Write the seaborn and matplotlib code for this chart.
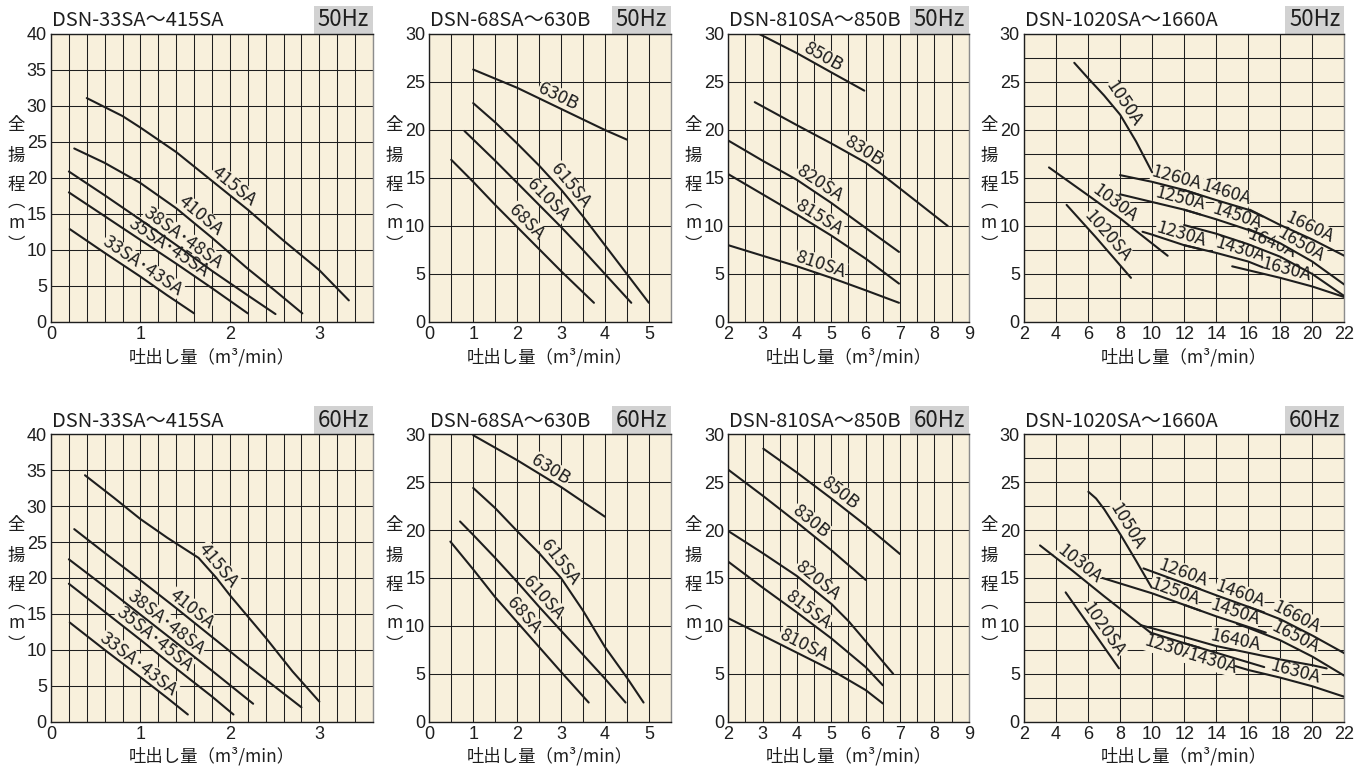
import numpy as np
import pandas as pd
import matplotlib
matplotlib.use("Agg")
import matplotlib.pyplot as plt
import seaborn as sns
from matplotlib.patches import Rectangle
from matplotlib.ticker import MultipleLocator

# pump curves: model -> (吐出し量 m3/min, 全揚程 m)
S_50 = {
    '415SA': ([0.40, 0.80, 1.00, 1.40, 1.80, 2.20, 2.60, 3.00, 3.33],
              [31.1, 28.6, 27.0, 23.6, 19.6, 15.6, 11.3, 7.2, 3.0]),
    '410SA': ([0.26, 0.60, 1.00, 1.40, 1.80, 2.20, 2.50, 2.81],
              [24.1, 22.1, 19.3, 15.8, 11.7, 7.4, 4.4, 1.2]),
    '38SA･48SA': ([0.20, 0.60, 1.00, 1.40, 1.80, 2.20, 2.51],
                  [20.9, 17.6, 14.2, 10.7, 7.1, 3.7, 1.1]),
    '35SA･45SA': ([0.20, 0.60, 1.00, 1.40, 1.80, 2.20],
                  [18.0, 14.7, 11.4, 8.1, 4.7, 1.2]),
    '33SA･43SA': ([0.21, 0.60, 1.00, 1.30, 1.60],
                  [12.9, 9.6, 6.3, 3.7, 1.2]),
}
S_60 = {
    '415SA': ([0.38, 0.70, 1.00, 1.30, 1.65, 1.85, 2.00, 2.40, 2.70, 3.00],
              [34.3, 31.2, 28.2, 25.6, 22.8, 20.0, 17.6, 11.7, 7.0, 2.8]),
    '410SA': ([0.26, 0.60, 1.00, 1.40, 1.80, 2.20, 2.50, 2.80],
              [26.8, 23.5, 19.7, 15.8, 11.8, 7.8, 4.9, 2.0]),
    '38SA･48SA': ([0.20, 0.60, 1.00, 1.40, 1.80, 2.26],
                  [22.6, 18.8, 14.9, 11.0, 7.1, 2.5]),
    '35SA･45SA': ([0.20, 0.60, 1.00, 1.40, 1.80, 2.04],
                  [19.2, 15.3, 11.4, 7.4, 3.5, 1.0]),
    '33SA･43SA': ([0.21, 0.60, 1.00, 1.30, 1.53],
                  [13.8, 10.0, 6.2, 3.3, 1.0]),
}
M_50 = {
    '630B': ([1.0, 2.0, 3.0, 4.0, 4.5], [26.3, 24.4, 22.2, 20.0, 19.0]),
    '615SA': ([1.0, 1.5, 2.0, 2.5, 3.0, 3.5, 4.0, 4.5, 5.0],
              [22.8, 20.8, 18.6, 16.3, 13.8, 11.0, 8.0, 5.0, 2.0]),
    '610SA': ([0.8, 1.5, 2.0, 2.5, 3.0, 3.5, 4.0, 4.6],
              [19.9, 16.8, 14.5, 12.2, 9.9, 7.5, 5.0, 2.0]),
    '68SA': ([0.5, 1.0, 1.5, 2.0, 2.5, 3.0, 3.75],
             [16.9, 14.6, 12.2, 9.9, 7.6, 5.3, 2.0]),
}
M_60 = {
    '630B': ([1.0, 2.0, 3.0, 4.0], [29.9, 27.3, 24.5, 21.4]),
    '615SA': ([1.0, 1.5, 2.0, 2.5, 3.0, 3.5, 4.0, 4.5, 4.88],
              [24.4, 22.3, 19.9, 17.6, 15.0, 11.6, 7.8, 4.6, 2.0]),
    '610SA': ([0.7, 1.0, 1.5, 2.0, 2.5, 3.0, 3.5, 4.0, 4.47],
              [20.9, 19.5, 17.1, 14.6, 12.0, 9.5, 7.0, 4.5, 2.0]),
    '68SA': ([0.48, 1.0, 1.5, 2.0, 2.5, 3.0, 3.63],
             [18.8, 15.9, 13.0, 10.4, 7.8, 5.2, 2.0]),
}
L_50 = {
    '850B': ([2.9, 4.0, 5.0, 5.96], [30.0, 28.0, 26.0, 24.1]),
    '830B': ([2.77, 4.0, 5.0, 6.0, 6.5, 7.5, 8.39],
             [22.9, 20.5, 18.6, 16.6, 15.3, 12.5, 10.0]),
    '820SA': ([2.0, 3.0, 4.0, 5.0, 6.0, 6.97], [18.9, 16.8, 14.8, 12.4, 9.8, 7.3]),
    '815SA': ([2.0, 3.0, 4.0, 5.0, 6.0, 6.97], [15.4, 13.3, 11.2, 9.0, 6.6, 4.0]),
    '810SA': ([2.0, 3.0, 4.0, 5.0, 6.0, 6.97], [8.0, 6.9, 5.8, 4.6, 3.3, 2.0]),
}
L_60 = {
    '850B': ([3.02, 4.0, 5.0, 6.0, 7.0], [28.5, 26.0, 23.3, 20.5, 17.5]),
    '830B': ([2.0, 3.0, 4.0, 5.0, 6.0], [26.3, 23.6, 20.8, 17.9, 14.8]),
    '820SA': ([2.0, 3.0, 4.0, 5.0, 5.5, 6.0, 6.8], [19.9, 17.6, 15.2, 12.3, 10.5, 8.4, 5.0]),
    '815SA': ([2.0, 3.0, 4.0, 5.0, 6.0, 6.5], [16.7, 14.0, 11.4, 8.7, 5.7, 3.8]),
    '810SA': ([2.0, 3.0, 4.0, 5.0, 6.0, 6.5], [10.8, 9.0, 7.2, 5.4, 3.3, 1.9]),
}
X_50 = {
    '1050A': ([5.14, 6, 7, 8, 9, 10], [27.0, 25.4, 23.6, 21.6, 18.8, 15.6]),
    '1260A': ([8, 10, 12, 13], [15.3, 14.6, 13.75, 13.2]),
    '1460A': ([12, 14, 16, 16.9], [13.75, 12.7, 11.7, 11.0]),
    '1660A': ([16.1, 18, 20, 22], [11.7, 10.1, 8.6, 6.9]),
    '1250A': ([8, 10, 12, 13], [13.3, 12.5, 11.7, 11.2]),
    '1450A': ([12, 14, 16, 16.9], [11.7, 10.7, 9.6, 9.1]),
    '1650A': ([16, 18, 20, 22], [9.7, 8.2, 6.3, 3.9]),
    '1230A': ([9.4, 10, 12, 13], [9.4, 9.1, 8.0, 7.6]),
    '1430A': ([12, 14, 16, 16.9], [8.0, 7.2, 6.3, 5.7]),
    '1640A': ([12, 14, 16, 18, 20, 22], [10.1, 9.2, 8.1, 6.8, 5.0, 2.7]),
    '1630A': ([15, 16, 18, 20, 22], [5.8, 5.4, 4.6, 3.7, 2.6]),
    '1030A': ([3.56, 6, 8, 10.97], [16.1, 13.2, 10.8, 6.9]),
    '1020SA': ([4.66, 6.5, 8.68], [12.2, 8.8, 4.6]),
}
X_60 = {
    '1050A': ([6.02, 6.5, 7, 8, 9, 9.97], [24.0, 23.3, 22.2, 19.6, 16.8, 14.0]),
    '1260A': ([9.46, 12, 13], [16.0, 14.45, 13.85]),
    '1460A': ([12, 14, 16, 17], [14.45, 13.2, 12.0, 11.4]),
    '1660A': ([16, 18, 20, 22], [12.0, 10.7, 9.0, 7.15]),
    '1250A': ([6.9, 10, 12, 13], [15.0, 13.4, 12.2, 11.6]),
    '1450A': ([12, 14, 16, 17.1], [12.2, 11.0, 9.9, 9.3]),
    '1650A': ([15.3, 16, 18, 20, 22], [10.2, 9.8, 8.5, 6.8, 4.8]),
    '1030A': ([3.0, 5, 7, 9.9], [18.4, 15.8, 13.1, 9.3]),
    '1230A': ([9.9, 12, 13], [9.3, 8.2, 7.7]),
    '1430A': ([12, 14, 16, 17], [8.2, 7.2, 6.2, 5.7]),
    '1630A': ([15.2, 16, 18, 20, 22], [5.8, 5.4, 4.6, 3.7, 2.6]),
    '1640A': ([9.3, 12, 14, 16, 18, 20, 20.9], [10.07, 8.85, 7.9, 7.2, 6.5, 5.9, 5.56]),
    '1020SA': ([4.6, 7.93], [13.5, 5.57]),
}

# where each curve name is written: flow at the text centre, +1 above / -1 below the line
S_50_LBL = {'415SA': (2.04, 1), '410SA': (1.67, 1), '38SA･48SA': (1.48, 1),
            '35SA･45SA': (1.32, 1), '33SA･43SA': (1.02, 1)}
S_60_LBL = {'415SA': (1.87, 1), '410SA': (1.58, 1), '38SA･48SA': (1.29, 1),
            '35SA･45SA': (1.16, 1), '33SA･43SA': (0.98, 1)}
M_50_LBL = {'630B': (2.93, 1), '615SA': (3.21, 1), '610SA': (2.70, 1), '68SA': (2.20, 1)}
M_60_LBL = {'630B': (2.77, 1), '615SA': (2.97, 1), '610SA': (2.60, 1), '68SA': (2.15, 1)}
L_50_LBL = {'850B': (4.77, 1), '830B': (5.95, 1), '820SA': (4.65, 1),
            '815SA': (4.65, 1), '810SA': (4.69, 1)}
L_60_LBL = {'850B': (5.25, 1), '830B': (4.40, 1), '820SA': (4.60, 1),
            '815SA': (4.33, 1), '810SA': (4.18, 1)}
X_50_LBL = {'1050A': (8.2, 1), '1260A': (11.53, 1), '1460A': (14.6, 1),
            '1250A': (11.74, 1), '1450A': (15.3, 1), '1030A': (7.68, 1),
            '1020SA': (7.22, 1), '1230A': (11.8, 1), '1430A': (15.5, 1),
            '1640A': (17.5, 1), '1660A': (19.8, 1), '1650A': (19.3, 1), '1630A': (18.4, 1)}
X_60_LBL = {'1050A': (8.41, 1), '1030A': (5.43, 1), '1020SA': (6.95, 1),
            '1260A': (11.95, 1), '1250A': (11.43, 1), '1460A': (15.5, 1),
            '1450A': (15.2, 1), '1660A': (19.0, 1), '1650A': (18.96, 1),
            '1640A': (15.2, 1), '1230A': (11.05, -1), '1430A': (13.76, -1), '1630A': (18.96, 1)}

TITLES = ['DSN-33SA～415SA', 'DSN-68SA～630B', 'DSN-810SA～850B', 'DSN-1020SA～1660A']
FREQS = ['50Hz', '60Hz']
X_LIMS = [(0, 3.6), (0, 5.5), (2, 9), (2, 22)]
Y_TOPS = [40, 30, 30, 30]
X_LABEL = '吐出し量（m³/min）'
Y_LABEL_CHARS = ['全', '揚', '程', '︵', 'm', '︶']

# ---- styling / layout ----
BG = '#f8f0dc'
INK = '#1e1e1e'
BOX = '#d2d2d2'
CJK = ['Noto Sans CJK JP', 'DejaVu Sans']
COL_PX = [(51, 322), (429.3, 241.5), (728.3, 240.4), (1024, 320.3)]   # left, width
ROW_PX = [(34, 288), (434.3, 287.4)]                                   # top, height
X_MAJOR = [1, 1, 1, 2]
X_GRID = [0.2, 0.5, 0.5, 2]
Y_GRID = [5, 5, 5, 2.5]
Y_CHAR_OFF = [91, 122, 151, 168, 189, 211]   # px below the plot top
LABEL_GAP = 9.5                              # px from line to text centre
W_PX, H_PX = 1370, 772

sns.set_style('white')
plt.rcParams['font.family'] = CJK


def to_frame(curves):
    rows = []
    for name, (xs, ys) in curves.items():
        for x, y in zip(xs, ys):
            rows.append({'model': name, 'flow': x, 'head': y})
    return pd.DataFrame(rows)


def place_label(ax, xs, ys, x0, side):
    """angle of the curve around x0 and the text centre set off to one side"""
    span = ax.get_xlim()[1] - ax.get_xlim()[0]
    a = max(x0 - 0.05 * span, xs[0])
    b = min(x0 + 0.05 * span, xs[-1])
    ya, yb = np.interp([a, b], xs, ys)
    p1, p2 = ax.transData.transform([(a, ya), (b, yb)])
    ang = np.arctan2(p2[1] - p1[1], p2[0] - p1[0])
    normal = np.array([-np.sin(ang), np.cos(ang)]) * side * LABEL_GAP
    # shift the anchor back so the text centre lands on x0
    px_per_x = (ax.transData.transform((1, 0)) - ax.transData.transform((0, 0)))[0]
    xa = x0 - normal[0] / px_per_x
    anchor = ax.transData.transform((xa, np.interp(xa, xs, ys)))
    cx, cy = ax.transData.inverted().transform(anchor + normal)
    return cx, cy, np.degrees(ang)


def draw_panel(fig, row, col, curves, labels):
    left, w = COL_PX[col]
    top, h = ROW_PX[row]
    ax = fig.add_axes([left / W_PX, 1 - (top + h) / H_PX, w / W_PX, h / H_PX])
    ax.set_facecolor(BG)

    df = to_frame(curves)
    sns.lineplot(data=df, x='flow', y='head', units='model', estimator=None,
                 sort=False, color=INK, linewidth=1.5, ax=ax, zorder=3)
    ax.set_xlim(*X_LIMS[col])
    ax.set_ylim(0, Y_TOPS[col])
    ax.set_xlabel('')
    ax.set_ylabel('')

    ax.xaxis.set_major_locator(MultipleLocator(X_MAJOR[col]))
    ax.xaxis.set_minor_locator(MultipleLocator(X_GRID[col]))
    ax.yaxis.set_major_locator(MultipleLocator(5))
    ax.yaxis.set_minor_locator(MultipleLocator(Y_GRID[col]))
    ax.grid(True, which='both', color=INK, linewidth=0.75)
    ax.set_axisbelow(True)
    ax.tick_params(which='both', length=0)
    ax.tick_params(axis='x', pad=3, labelsize=13, colors=INK)
    ax.tick_params(axis='y', pad=3, labelsize=13, colors=INK)
    for t in ax.get_xticklabels() + ax.get_yticklabels():
        t.set_fontfamily('Liberation Sans')
    for s in ax.spines.values():
        s.set_color(INK)
        s.set_linewidth(1.0)
    ax.spines['right'].set_color('#8c8c8c')

    # curve names along the lines (the backing only masks the grid)
    for name, (lx, side) in labels.items():
        xs, ys = curves[name]
        cx, cy, ang = place_label(ax, xs, ys, lx, side)
        ax.text(cx, cy, name, rotation=ang, rotation_mode='anchor',
                ha='center', va='center', fontsize=13, color=INK, zorder=2.5,
                bbox=dict(boxstyle='square,pad=0.02', fc=BG, ec='none'))

    # title and frequency tag
    ax.text(0.003, 1 + 13 / h, TITLES[col], transform=ax.transAxes,
            ha='left', va='center', fontsize=14.5, color=INK)
    bw, bh = 59, 28
    ax.add_patch(Rectangle((1 - bw / w, 1), bw / w, bh / h, transform=ax.transAxes,
                           fc=BOX, ec='none', clip_on=False))
    ax.text(1 - bw / w / 2, 1 + bh / h / 2, FREQS[row], transform=ax.transAxes,
            ha='center', va='center', fontsize=16, color=INK)

    # axis titles
    ax.text(0.5, -35 / h, X_LABEL, transform=ax.transAxes, ha='center', va='center',
            fontsize=12.5, color=INK)
    for ch, off in zip(Y_LABEL_CHARS, Y_CHAR_OFF):
        ax.text(-35 / w, 1 - off / h, ch, transform=ax.transAxes, ha='center',
                va='center', fontsize=12.5, color=INK)
    return ax


fig = plt.figure(figsize=(13.7, 7.72), dpi=100)
fig.patch.set_facecolor('white')

panels = [
    [(S_50, S_50_LBL), (M_50, M_50_LBL), (L_50, L_50_LBL), (X_50, X_50_LBL)],
    [(S_60, S_60_LBL), (M_60, M_60_LBL), (L_60, L_60_LBL), (X_60, X_60_LBL)],
]
for r, row_panels in enumerate(panels):
    for c, (curves, labels) in enumerate(row_panels):
        draw_panel(fig, r, c, curves, labels)

fig.savefig('out.png', dpi=100)
